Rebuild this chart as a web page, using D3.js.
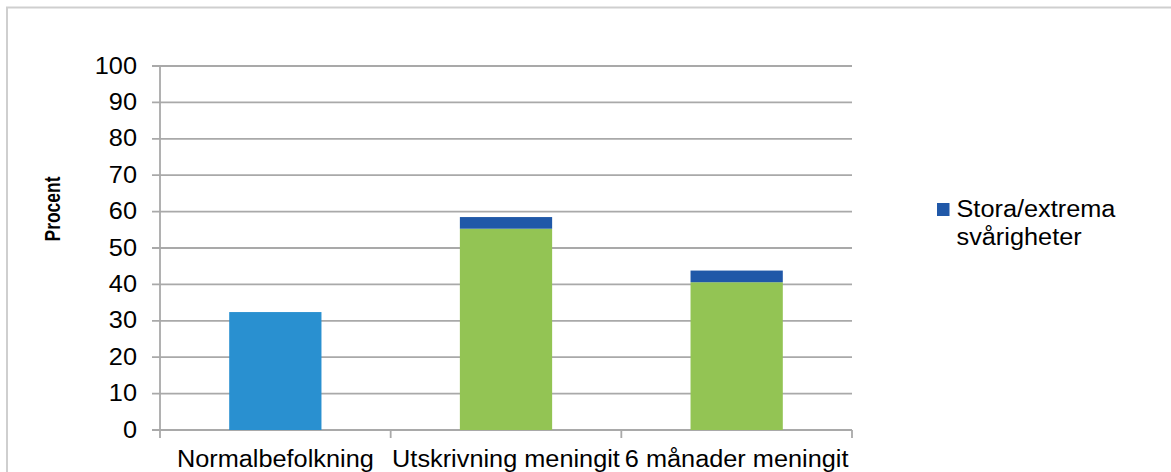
<!DOCTYPE html>
<html>
<head>
	<meta charset="utf-8">
	<script src="https://cdn.jsdelivr.net/npm/d3@7/dist/d3.min.js"></script>
	<style>
		body { margin: 0; background: #fff; }
		svg { display: block; font-family: "Liberation Sans", Arial, sans-serif; }
	</style>
</head>
<body>
	<svg id="chart" width="1171" height="472"></svg>
	<script>
	// data
	var categories = ["Normalbefolkning", "Utskrivning meningit", "6 månader meningit"];
	var baseValues = [32.4, 55.3, 40.6];
	var extremeValues = [0, 3.2, 3.2];
	var yTicks = [0, 10, 20, 30, 40, 50, 60, 70, 80, 90, 100];
	var legendLabel = ["Stora/extrema", "svårigheter"];
	var yTitle = "Procent";

	var STRETCH = 1.1; // the reference text is a bit wider than plain Arial
	var FONT = 23;

	function stretch(sel, factor) {
		sel.each(function() {
			var w = this.getComputedTextLength();
			d3.select(this).attr("textLength", w * factor).attr("lengthAdjust", "spacingAndGlyphs");
		});
	}

	function drawChart() {
		var svg = d3.select("#chart");

		// outer frame
		svg.append("rect")
			.attr("x", 7).attr("y", 7.5)
			.attr("width", 1300).attr("height", 600)
			.attr("fill", "none")
			.attr("stroke", "#cfcfcf")
			.attr("stroke-width", 2);

		var plotLeft = 160, plotRight = 852, plotTop = 66, plotBottom = 430;

		var x = d3.scaleBand()
			.domain(categories)
			.range([plotLeft, plotRight])
			.paddingInner(0.6)
			.paddingOuter(0.3);

		var y = d3.scaleLinear()
			.domain([0, 100])
			.range([plotBottom, plotTop]);

		var rows = categories.map(function(c, i) {
			return { cat: c, idx: i, base: baseValues[i], extreme: extremeValues[i] };
		});
		var stacked = d3.stack().keys(["base", "extreme"])(rows);

		var gridColor = "#a9a9a9";

		// gridlines with left ticks
		svg.append("g")
			.selectAll("line")
			.data(yTicks)
			.enter().append("line")
				.attr("x1", plotLeft - 8)
				.attr("x2", plotRight)
				.attr("y1", function(d) { return y(d); })
				.attr("y2", function(d) { return y(d); })
				.attr("stroke", gridColor)
				.attr("stroke-width", 1.8);

		// y axis line
		svg.append("line")
			.attr("x1", plotLeft).attr("x2", plotLeft)
			.attr("y1", y(100)).attr("y2", y(0) + 1)
			.attr("stroke", gridColor)
			.attr("stroke-width", 1.8);

		// category ticks on the x axis
		var step = x.step();
		var xTickPos = d3.range(categories.length + 1).map(function(i) { return plotLeft + i * step; });
		svg.append("g")
			.selectAll("line")
			.data(xTickPos)
			.enter().append("line")
				.attr("x1", function(d) { return d; })
				.attr("x2", function(d) { return d; })
				.attr("y1", y(0))
				.attr("y2", y(0) + 8)
				.attr("stroke", gridColor)
				.attr("stroke-width", 1.8);

		// bars
		var fills = {
			base: function(d) { return d.data.idx === 0 ? "#2990d0" : "#93c454"; },
			extreme: function() { return "#2058a8"; }
		};

		svg.append("g")
			.selectAll("g")
			.data(stacked)
			.enter().append("g")
			.each(function(layer) {
				d3.select(this).selectAll("rect")
					.data(layer.filter(function(d) { return d[1] - d[0] > 0; }))
					.enter().append("rect")
						.attr("x", function(d) { return x(d.data.cat); })
						.attr("width", x.bandwidth())
						.attr("y", function(d) { return y(d[1]); })
						.attr("height", function(d) { return y(d[0]) - y(d[1]); })
						.attr("fill", fills[layer.key]);
			});

		// y tick labels
		var yLab = svg.append("g")
			.selectAll("text")
			.data(yTicks)
			.enter().append("text")
				.attr("x", 137)
				.attr("y", function(d) { return y(d); })
				.attr("dy", "0.33em")
				.attr("text-anchor", "end")
				.attr("font-size", FONT)
				.attr("fill", "#000")
				.text(function(d) { return d; });
		stretch(yLab, STRETCH);

		// x labels
		var xLab = svg.append("g")
			.selectAll("text")
			.data(categories)
			.enter().append("text")
				.attr("x", function(d) { return x(d) + x.bandwidth() / 2; })
				.attr("y", 467)
				.attr("text-anchor", "middle")
				.attr("font-size", FONT)
				.attr("fill", "#000")
				.text(function(d) { return d; });
		stretch(xLab, STRETCH);

		// y title
		svg.append("text")
			.attr("transform", "translate(60,209) rotate(-90)")
			.attr("text-anchor", "middle")
			.attr("font-family", "'Liberation Sans Narrow', 'Liberation Sans', sans-serif")
			.attr("font-weight", "bold")
			.attr("font-size", 22)
			.attr("textLength", 65)
			.attr("lengthAdjust", "spacingAndGlyphs")
			.text(yTitle);

		// legend
		var legend = svg.append("g").attr("transform", "translate(937,203)");
		legend.append("rect")
			.attr("width", 12.5)
			.attr("height", 13)
			.attr("fill", "#2058a8");
		var legText = legend.selectAll("text")
			.data(legendLabel)
			.enter().append("text")
				.attr("x", 19.5)
				.attr("y", function(d, i) { return 13.7 + i * 28.5; })
				.attr("font-size", FONT)
				.attr("fill", "#000")
				.text(function(d) { return d; });
		stretch(legText, STRETCH);
	}

	drawChart();
	</script>
</body>
</html>
